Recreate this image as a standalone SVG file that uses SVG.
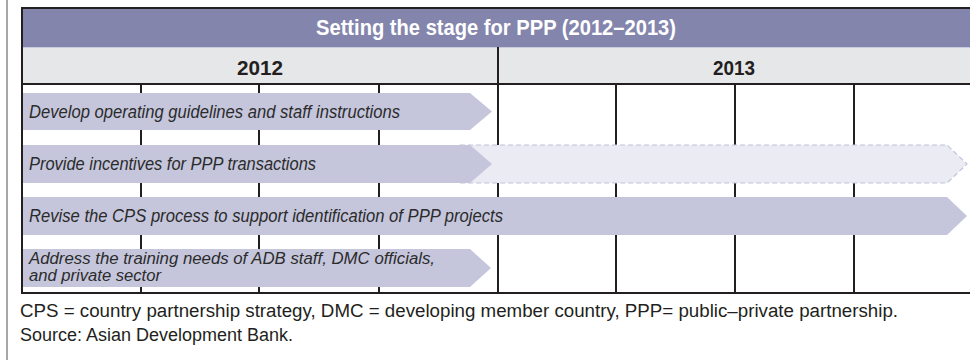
<svg xmlns="http://www.w3.org/2000/svg" width="970" height="360" viewBox="0 0 970 360">
<style>
.grid{stroke:#231f20;stroke-width:2;fill:none}
.bar{fill:#c5c6dc}
.future{fill:#ebebf3;stroke:#c2c2dc;stroke-width:1.2;stroke-dasharray:5 3}
.lbl{font-family:"Liberation Sans",Arial,sans-serif;font-style:italic;font-size:17.5px;fill:#2b2b2b}
.lbl2{font-family:"Liberation Sans",Arial,sans-serif;font-style:italic;font-size:16px;fill:#2b2b2b}
.yr{font-family:"Liberation Sans",Arial,sans-serif;font-weight:bold;font-size:21px;fill:#231f20;text-anchor:middle}
.ttl{font-family:"Liberation Sans",Arial,sans-serif;font-weight:bold;font-size:22px;fill:#ffffff;text-anchor:middle}
.note{font-family:"Liberation Sans",Arial,sans-serif;font-size:18px;fill:#231f20}
</style>
<rect width="970" height="360" fill="#ffffff"/>
<line x1="7" y1="0" x2="7" y2="360" stroke="#8a8a8a" stroke-width="1.5"/>
<g id="header">
<rect x="22" y="9" width="948" height="38" fill="#8485ad"/>
<rect x="22" y="47" width="948" height="1.2" fill="#c9cade"/>
<rect x="22" y="48" width="948" height="36" fill="#e6e7e9"/>
<text class="ttl" x="496" y="35" textLength="360" lengthAdjust="spacingAndGlyphs">Setting the stage for PPP (2012–2013)</text>
<text class="yr" x="260" y="75" textLength="46" lengthAdjust="spacingAndGlyphs">2012</text>
<text class="yr" x="734" y="75" textLength="42" lengthAdjust="spacingAndGlyphs">2013</text>
</g>
<g id="gridlines" class="grid">
<line x1="141" y1="84" x2="141" y2="293"/>
<line x1="259" y1="84" x2="259" y2="293"/>
<line x1="379" y1="84" x2="379" y2="293"/>
<line x1="498" y1="47" x2="498" y2="293"/>
<line x1="616" y1="84" x2="616" y2="293"/>
<line x1="735" y1="84" x2="735" y2="293"/>
<line x1="854" y1="84" x2="854" y2="293"/>
</g>
<g id="row1">
<polygon class="bar" points="22,93 470,93 492,111.5 470,130 22,130"/>
<text class="lbl" x="29" y="118" textLength="371" lengthAdjust="spacingAndGlyphs">Develop operating guidelines and staff instructions</text>
</g>
<g id="row2">
<polygon class="future" points="460,145 947,145 967,164 947,183 460,183"/>
<polygon class="bar" points="22,145 470,145 492,164 470,183 22,183"/>
<text class="lbl" x="29" y="170" textLength="287" lengthAdjust="spacingAndGlyphs">Provide incentives for PPP transactions</text>
</g>
<g id="row3">
<polygon class="bar" points="22,197 947,197 967,216 947,235 22,235"/>
<text class="lbl" x="29" y="222" textLength="474" lengthAdjust="spacingAndGlyphs">Revise the CPS process to support identification of PPP projects</text>
</g>
<g id="row4">
<polygon class="bar" points="22,249 470,249 491,268 470,287 22,287"/>
<text class="lbl2" x="29" y="264" textLength="406" lengthAdjust="spacingAndGlyphs">Address the training needs of ADB staff, DMC officials,</text>
<text class="lbl2" x="29" y="281" textLength="132" lengthAdjust="spacingAndGlyphs">and private sector</text>
</g>
<g id="frame" class="grid">
<line x1="22" y1="8" x2="970" y2="8"/>
<line x1="22" y1="84" x2="970" y2="84"/>
<line x1="22" y1="293" x2="970" y2="293"/>
<line x1="22" y1="7" x2="22" y2="294"/>
</g>
<g id="notes">
<text class="note" x="20" y="317" textLength="878" lengthAdjust="spacingAndGlyphs">CPS = country partnership strategy, DMC = developing member country, PPP= public–private partnership.</text>
<text class="note" x="20" y="341" textLength="273" lengthAdjust="spacingAndGlyphs">Source: Asian Development Bank.</text>
</g>
</svg>
